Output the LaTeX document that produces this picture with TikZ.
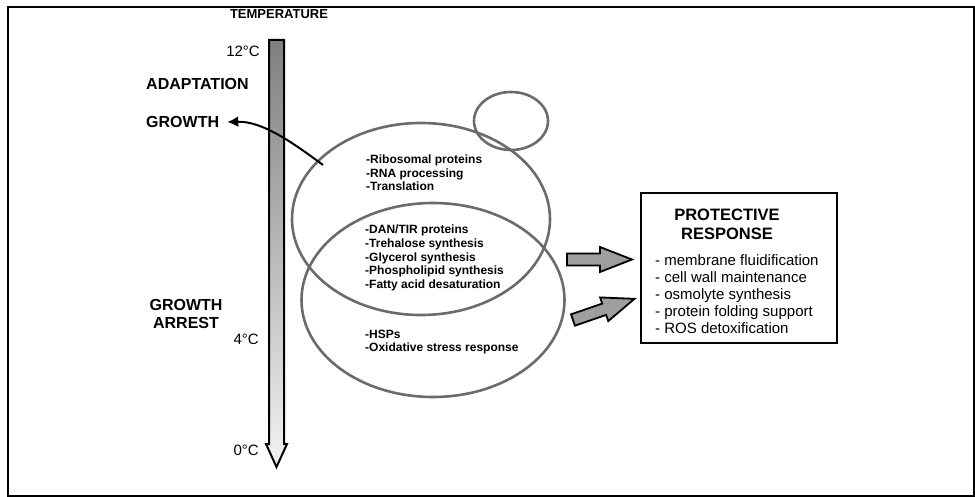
\documentclass[tikz,border=0pt]{standalone}
\usepackage{fontspec}
\setmainfont{Liberation Sans}
\usetikzlibrary{shapes.geometric, arrows.meta, positioning}

\begin{document}
\begin{tikzpicture}[x=1pt, y=-1pt,
  ring/.style={draw=black!58, line width=2.6pt, ellipse, inner sep=0pt},
  genes/.style={font=\fontsize{12}{13.6}\selectfont\bfseries, align=left, anchor=west, inner sep=0pt},
  stage/.style={font=\fontsize{16}{18.5}\selectfont\bfseries, inner sep=0pt},
  degree/.style={font=\fontsize{15}{17}\selectfont, anchor=east, inner sep=0pt},
  blockarrow/.style={draw=black, line width=1.8pt, fill=black!38, line join=miter}]
\useasboundingbox (0,0) rectangle (975,497);
\draw [line width=1.6pt] (8,7) rectangle (974,496);
% temperature scale
\shadedraw [top color=black!50, bottom color=black!5, line width=2pt, line join=miter] (269,40) -- (284,40) -- (284,444) -- (287,444) -- (276.5,467) -- (266,444) -- (269,444) -- cycle;
\node [font=\fontsize{13}{15}\selectfont\bfseries, inner sep=0pt] (temp) at (279,14) {TEMPERATURE};
\node [degree] (t12) at (260,51) {12°C};
\node [degree] (t4) at (259,339) {4°C};
\node [degree] (t0) at (259,450) {0°C};
\node [stage, anchor=west] (adapt) at (146,84) {ADAPTATION};
\node [stage, anchor=west] (growth) at (146,122) {GROWTH};
\node [stage, align=center] (arrest) at (186,314) {GROWTH\\ARREST};
% gene groups
\node [ring, minimum width=74pt, minimum height=58pt] (bud) at (511,121) {};
\node [ring, minimum width=258pt, minimum height=192pt] (upper) at (421,219) {};
\node [ring, minimum width=263pt, minimum height=194pt] (lower) at (433,300) {};
\node [genes] (ribo) at (366,173) {-Ribosomal proteins\\-RNA processing\\-Translation};
\node [genes] (dan) at (365,258) {-DAN/TIR proteins\\-Trehalose synthesis\\-Glycerol synthesis\\-Phospholipid synthesis\\-Fatty acid desaturation};
\node [genes] (hsp) at (365,342) {-HSPs\\-Oxidative stress response};
\coordinate (bend) at (323,165);
\draw [line width=2pt, -{Latex[length=11pt, width=11pt]}] (bend) .. controls (292,142) and (262,121) .. ([xshift=8pt]growth.east);
% protective response
\node [draw, line width=1.4pt, minimum width=196pt, minimum height=150pt, inner sep=0pt] (prot) at (739,268) {};
\node [font=\fontsize{16.5}{19}\selectfont\bfseries, align=center, inner sep=0pt] (title) at (727,224.5) {PROTECTIVE\\RESPONSE};
\node [font=\fontsize{15}{17.1}\selectfont, align=left, anchor=west, inner sep=0pt] (resp) at (655,294) {- membrane fluidification\\- cell wall maintenance\\- osmolyte synthesis\\- protein folding support\\- ROS detoxification};
\foreach \ax/\ay/\rot in {567/259.5/0, 573/320/19}
  \draw [blockarrow, shift={(\ax,\ay)}, rotate=\rot] (0,-6) -- (33,-6) -- (33,-12.5) -- (65,0) -- (33,12.5) -- (33,6) -- (0,6) -- cycle;
\end{tikzpicture}
\end{document}
